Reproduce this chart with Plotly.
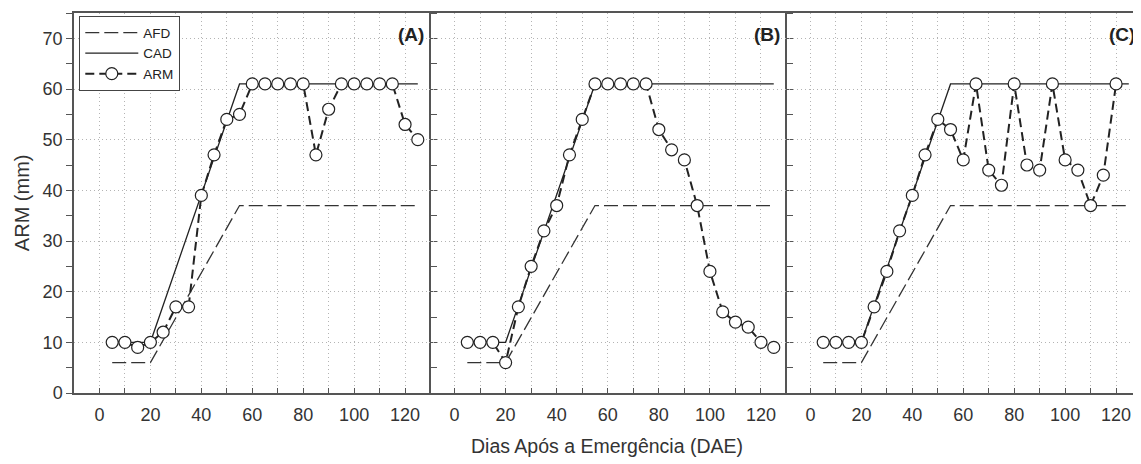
import plotly.graph_objects as go

# ---------------- data ----------------
days = [5, 10, 15, 20, 25, 30, 35, 40, 45, 50, 55, 60, 65, 70, 75, 80, 85, 90, 95, 100, 105, 110, 115, 120, 125]
days_c = days[:-1]

limit_x = [5, 20, 55, 125]
afd = [6, 6, 37, 37]
cad = [10, 10, 61, 61]

arm_a = [10, 10, 9, 10, 12, 17, 17, 39, 47, 54, 55, 61, 61, 61, 61, 61, 47, 56, 61, 61, 61, 61, 61, 53, 50]
arm_b = [10, 10, 10, 6, 17, 25, 32, 37, 47, 54, 61, 61, 61, 61, 61, 52, 48, 46, 37, 24, 16, 14, 13, 10, 9]
arm_c = [10, 10, 10, 10, 17, 24, 32, 39, 47, 54, 52, 46, 61, 44, 41, 61, 45, 44, 61, 46, 44, 37, 43, 61]

panels = [("(A)", days, arm_a), ("(B)", days, arm_b), ("(C)", days_c, arm_c)]

x_ticks = [0, 20, 40, 60, 80, 100, 120]
y_ticks = [0, 10, 20, 30, 40, 50, 60, 70]

# ---------------- figure ----------------
FONT = "Liberation Sans, Arial, sans-serif"
INK = "#222222"
AXC = "#555555"
GRID = "#b4b4b4"
GDASH = "1px,3px"

# the page places the figure 8px in from the top-left corner
W, H = 1141, 464
ML, MR, MT, MB = 66, 6, 3, 79
bounds = [66, 422, 779, 1135]
pw = W - ML - MR
ph = H - MT - MB
domains = [[(bounds[i] - ML) / pw, (bounds[i + 1] - ML) / pw] for i in range(3)]

fig = go.Figure()

for i, (label, xs, arm) in enumerate(panels):
    xa = "x" if i == 0 else f"x{i+1}"
    ya = "y" if i == 0 else f"y{i+1}"
    show = i == 0
    fig.add_trace(go.Scatter(x=limit_x, y=afd, mode="lines", name="AFD", showlegend=show,
                             line=dict(color="#333333", width=1.3, dash="14px,5px"),
                             xaxis=xa, yaxis=ya))
    fig.add_trace(go.Scatter(x=limit_x, y=cad, mode="lines", name="CAD", showlegend=show,
                             line=dict(color="#222222", width=1.3),
                             xaxis=xa, yaxis=ya))
    fig.add_trace(go.Scatter(x=xs, y=arm, mode="lines+markers", name="ARM", showlegend=show,
                             line=dict(color=INK, width=2, dash="9px,5px"),
                             marker=dict(symbol="circle", size=12, color="white",
                                         line=dict(color=INK, width=1.2)),
                             xaxis=xa, yaxis=ya))

    xkey = "xaxis" if i == 0 else f"xaxis{i+1}"
    ykey = "yaxis" if i == 0 else f"yaxis{i+1}"
    fig.layout[xkey] = dict(
        domain=domains[i], anchor=ya, range=[-10, 129.4],
        tickvals=x_ticks, ticks="inside", ticklen=5, tickwidth=1, tickcolor=AXC,
        minor=dict(dtick=10, tick0=0, ticks="inside", ticklen=5, tickwidth=1, tickcolor=AXC,
                   showgrid=True, gridcolor=GRID, griddash=GDASH, gridwidth=1),
        showgrid=True, gridcolor=GRID, griddash=GDASH, gridwidth=1,
        showline=True, linecolor=AXC, linewidth=1.5, mirror=True,
        zeroline=False, ticklabelstandoff=5,
        tickfont=dict(family=FONT, size=18, color="#333333"),
    )
    ycfg = dict(
        domain=[0, 1], anchor=xa, range=[0, 75],
        tickvals=y_ticks, ticks="outside", ticklen=6, tickwidth=1, tickcolor=AXC,
        minor=dict(dtick=5, tick0=0, ticks="outside", ticklen=6, tickwidth=1, tickcolor=AXC,
                   showgrid=False),
        showgrid=True, gridcolor=GRID, griddash=GDASH, gridwidth=1,
        showline=True, linecolor=AXC, linewidth=1.5,
        zeroline=False,
        tickfont=dict(family=FONT, size=18, color="#333333"),
    )
    if i == 0:
        ycfg.update(side="left", mirror="ticks", showticklabels=True)
    else:
        ycfg.update(side="right", mirror=False, showticklabels=False)
    fig.layout[ykey] = ycfg

    fig.add_annotation(text=f"<b>{label}</b>", xref="paper", yref="paper",
                       x=domains[i][1] - 3 / pw, y=1 - 22 / ph,
                       xanchor="right", yanchor="middle", showarrow=False,
                       font=dict(family=FONT, size=19, color="#222222"))

fig.add_annotation(text="ARM (mm)", xref="paper", yref="paper",
                   x=-(ML - 14) / pw, y=0.5, textangle=-90,
                   xanchor="center", yanchor="middle", showarrow=False,
                   font=dict(family=FONT, size=20, color="#333333"))
fig.add_annotation(text="Dias Após a Emergência (DAE)", xref="paper", yref="paper",
                   x=0.5, y=-(438 - (H - MB)) / ph,
                   xanchor="center", yanchor="middle", showarrow=False,
                   font=dict(family=FONT, size=19.5, color="#333333"))

fig.update_layout(
    width=W, height=H,
    margin=dict(l=ML, r=MR, t=MT, b=MB, pad=0),
    paper_bgcolor="white", plot_bgcolor="white",
    showlegend=True,
    legend=dict(x=5 / pw, y=1 - 3 / ph, xanchor="left", yanchor="top",
                bgcolor="white", bordercolor="#444444", borderwidth=1.3,
                font=dict(family=FONT, size=13.5, color="#222222"),
                itemwidth=53, tracegroupgap=0),
)

fig.write_html("out.html")
